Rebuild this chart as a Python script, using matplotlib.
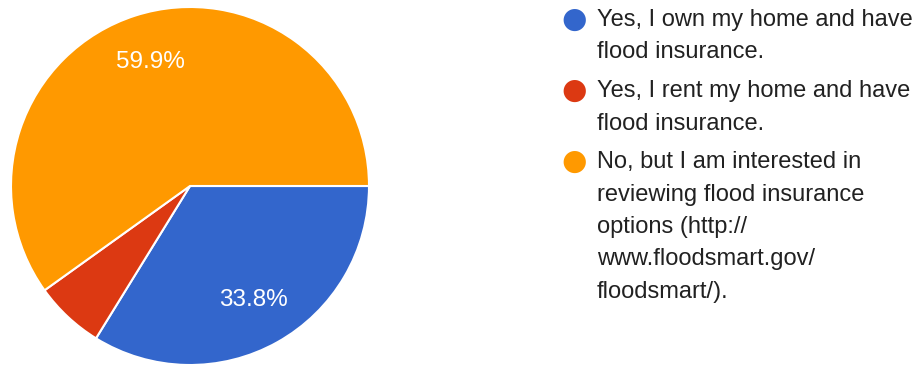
import matplotlib
matplotlib.use("Agg")
import matplotlib.pyplot as plt

labels = [
    "Yes, I own my home and have\nflood insurance.",
    "Yes, I rent my home and have\nflood insurance.",
    "No, but I am interested in\nreviewing flood insurance\noptions (http://\nwww.floodsmart.gov/\nfloodsmart/).",
]
shares = [33.8, 6.3, 59.9]
colors = ["#3366CC", "#DC3912", "#FF9900"]

plt.rcParams["font.family"] = ["Liberation Sans", "DejaVu Sans"]

W, H = 921, 367
fig = plt.figure(figsize=(W / 100, H / 100), dpi=100)

# pie: center (190,186), radius 179 px
cx, cy, r = 190, 186, 179
ax = fig.add_axes([(cx - r) / W, (H - cy - r) / H, 2 * r / W, 2 * r / H])
ax.pie(
    shares,
    colors=colors,
    startangle=0,
    counterclock=False,
    autopct=lambda p: f"{p:.1f}%" if p > 10 else "",
    pctdistance=0.73,
    radius=1.0,
    wedgeprops=dict(edgecolor="white", linewidth=1.5),
    textprops=dict(color="white", fontsize=17.5),
)
ax.set_xlim(-1, 1)
ax.set_ylim(-1, 1)
ax.set_aspect("auto")

# legend drawn by hand
line_h = 32.5
gap = 6
y = 20
for lab, col in zip(labels, colors):
    fig.text(574 / W, 1 - y / H, "\u25CF", color=col, fontsize=21,
             ha="center", va="center", family="DejaVu Sans")
    for line in lab.split("\n"):
        fig.text(597 / W, 1 - y / H, line, color="#212121", fontsize=17,
                 ha="left", va="center")
        y += line_h
    y += gap

fig.savefig("out.png", dpi=100)
